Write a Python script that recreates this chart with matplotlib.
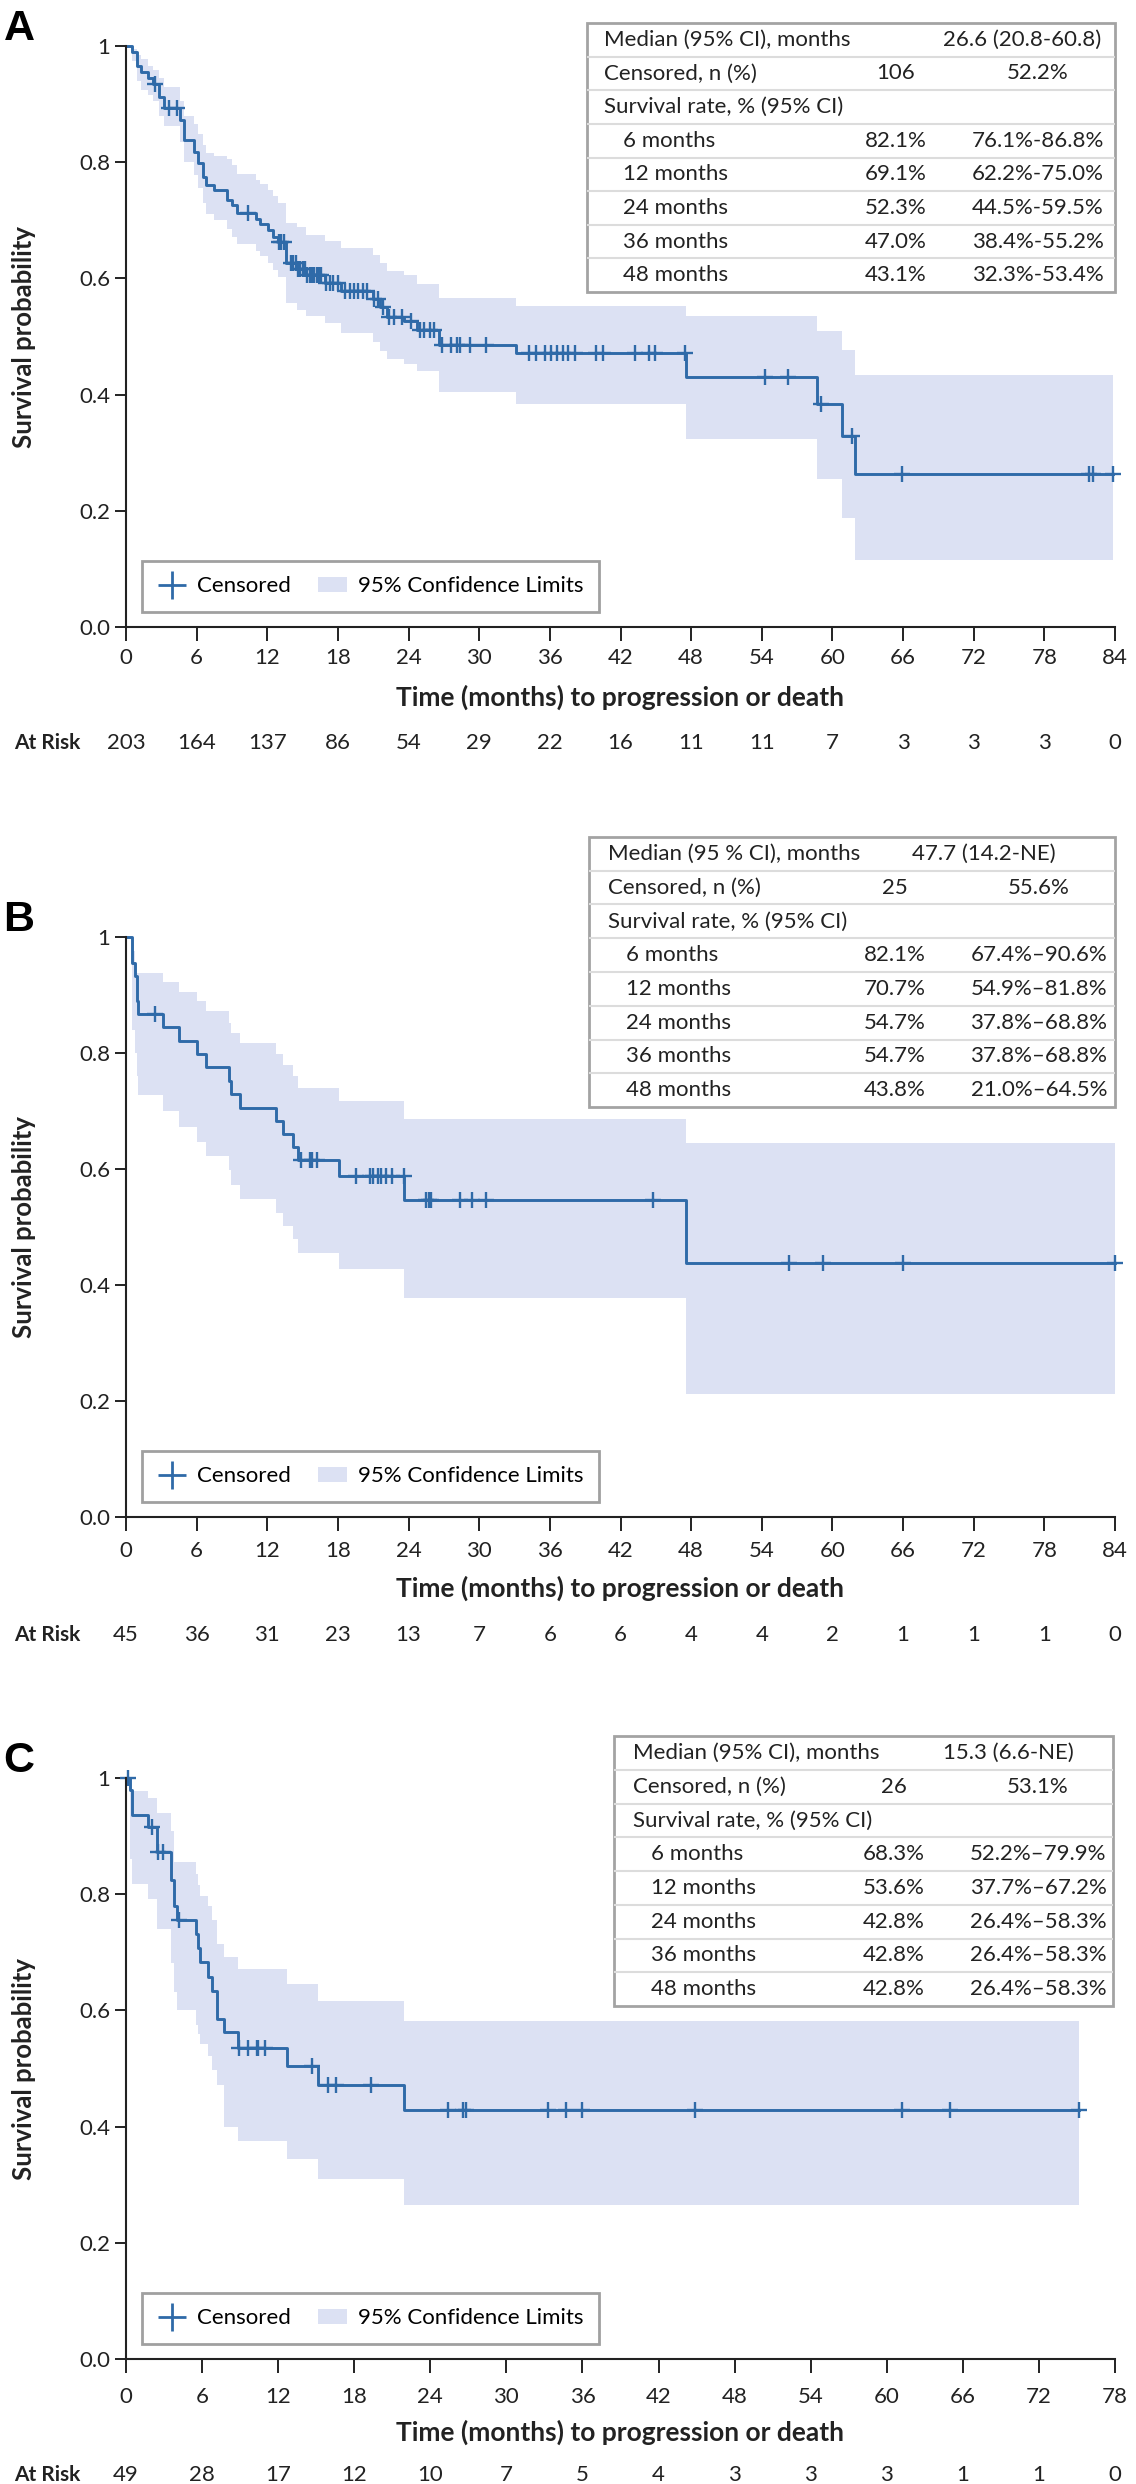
import numpy as np
import matplotlib
matplotlib.use("Agg")
import matplotlib.pyplot as plt
import matplotlib.transforms as mtransforms
from matplotlib.lines import Line2D
from matplotlib.patches import Patch, Rectangle

# ---------------- data ----------------
# panel A: event times (months), KM estimate, 95% CI
tA = [0, 0.5, 0.9, 1.3, 1.9, 2.3, 2.8, 3.2, 4.6, 4.9, 5.8, 6.1, 6.5, 6.8, 7.5, 8.6, 9.0, 9.4,
      11.0, 11.4, 12.1, 12.5, 12.9, 13.58, 14.5, 15.3, 16.9, 18.3, 21.0, 21.6, 22.2, 23.6,
      24.7, 26.6, 33.1, 47.6, 58.7, 60.8, 61.9]
sA = [1.0, 0.99, 0.966, 0.955, 0.945, 0.935, 0.912, 0.894, 0.872, 0.838, 0.818, 0.798, 0.775,
      0.761, 0.753, 0.735, 0.726, 0.712, 0.702, 0.693, 0.683, 0.672, 0.662, 0.626, 0.617, 0.605,
      0.592, 0.578, 0.565, 0.55, 0.534, 0.526, 0.512, 0.486, 0.471, 0.431, 0.383, 0.328, 0.263]
hiA = [1.0, 0.995, 0.985, 0.978, 0.965, 0.958, 0.945, 0.93, 0.905, 0.88, 0.865, 0.848, 0.83,
       0.815, 0.81, 0.805, 0.795, 0.78, 0.77, 0.762, 0.752, 0.742, 0.73, 0.695, 0.688, 0.675,
       0.665, 0.652, 0.64, 0.626, 0.612, 0.605, 0.59, 0.566, 0.552, 0.535, 0.51, 0.477, 0.434]
loA = [1.0, 0.975, 0.94, 0.925, 0.915, 0.905, 0.88, 0.862, 0.835, 0.80, 0.778, 0.755, 0.73,
       0.71, 0.70, 0.685, 0.672, 0.66, 0.648, 0.638, 0.627, 0.615, 0.603, 0.557, 0.545, 0.535,
       0.523, 0.506, 0.49, 0.475, 0.462, 0.452, 0.44, 0.405, 0.384, 0.323, 0.254, 0.188, 0.116]
censA = [2.5, 3.66, 4.36, 10.4, 13.0, 13.2, 13.4, 14.0, 14.2, 14.4, 14.6, 14.8, 15.0, 15.2,
         15.4, 15.6, 15.8, 16.0, 16.2, 16.4, 16.6, 17.0, 17.3, 17.6, 18.0, 18.6, 19.0, 19.4,
         19.7, 20.1, 20.5, 21.1, 21.4, 21.8, 22.3, 22.8, 23.4, 24.2, 25.0, 25.3, 25.8, 26.2,
         26.8, 27.6, 28.1, 28.4, 29.2, 30.6, 34.2, 34.8, 35.6, 36.1, 36.6, 37.1, 37.5, 38.1,
         39.9, 40.5, 43.2, 44.4, 44.9, 47.5, 54.3, 56.2, 59.0, 61.7, 65.9, 81.8, 82.1, 83.8]
riskA = [203, 164, 137, 86, 54, 29, 22, 16, 11, 11, 7, 3, 3, 3, 0]

# panel B
tB = [0, 0.54, 0.77, 0.9, 1.0, 3.15, 4.5, 6.0, 6.83, 8.76, 8.95, 9.67, 12.78, 13.35, 14.2,
      14.65, 18.05, 23.64, 47.6]
sB = [1.0, 0.956, 0.933, 0.89, 0.867, 0.844, 0.820, 0.798, 0.776, 0.751, 0.730, 0.706, 0.683,
      0.661, 0.638, 0.616, 0.588, 0.546, 0.438]
hiB = [1.0, 0.976, 0.938, 0.938, 0.938, 0.922, 0.905, 0.889, 0.872, 0.851, 0.835, 0.818, 0.798,
       0.779, 0.760, 0.74, 0.717, 0.686, 0.645]
loB = [1.0, 0.84, 0.80, 0.76, 0.727, 0.70, 0.672, 0.647, 0.622, 0.599, 0.573, 0.548, 0.525,
       0.502, 0.479, 0.456, 0.427, 0.377, 0.212]
censB = [2.5, 14.85, 15.6, 15.8, 16.2, 19.5, 20.7, 21.0, 21.4, 21.7, 22.1, 22.6, 23.6, 25.5,
         25.7, 25.9, 28.4, 29.4, 30.6, 44.8, 56.3, 59.2, 66.0, 84.0]
riskB = [45, 36, 31, 23, 13, 7, 6, 6, 4, 4, 2, 1, 1, 1, 0]

# panel C
tC = [0, 0.3, 0.45, 1.76, 2.42, 3.52, 3.78, 4.05, 5.52, 5.7, 5.86, 6.49, 6.75, 7.2, 7.76, 8.8,
      12.67, 15.17, 21.9]
sC = [1.0, 0.98, 0.936, 0.916, 0.873, 0.824, 0.779, 0.756, 0.731, 0.707, 0.683, 0.658, 0.633,
      0.585, 0.562, 0.536, 0.505, 0.472, 0.428]
hiC = [1.0, 0.978, 0.978, 0.966, 0.939, 0.908, 0.855, 0.855, 0.835, 0.815, 0.797, 0.779, 0.756,
       0.714, 0.692, 0.672, 0.645, 0.616, 0.582]
loC = [1.0, 0.86, 0.817, 0.792, 0.74, 0.681, 0.632, 0.601, 0.575, 0.56, 0.543, 0.521, 0.497,
       0.471, 0.40, 0.376, 0.344, 0.309, 0.265]
censC = [0.18, 2.07, 2.5, 2.9, 4.2, 8.9, 9.6, 10.3, 10.4, 11.0, 14.65, 15.96, 16.6, 19.3, 25.4,
         26.6, 26.8, 33.3, 34.7, 36.0, 44.9, 61.2, 65.0, 75.2]
riskC = [49, 28, 17, 12, 10, 7, 5, 4, 3, 3, 3, 1, 1, 0]

# summary tables
row_labels = ["Survival rate, % (95% CI)", "6 months", "12 months", "24 months", "36 months", "48 months"]
medA, censnA, censpA = "26.6 (20.8-60.8)", "106", "52.2%"
ratesA = ["82.1%", "69.1%", "52.3%", "47.0%", "43.1%"]
cisA = ["76.1%-86.8%", "62.2%-75.0%", "44.5%-59.5%", "38.4%-55.2%", "32.3%-53.4%"]
medB, censnB, censpB = "47.7 (14.2-NE)", "25", "55.6%"
ratesB = ["82.1%", "70.7%", "54.7%", "54.7%", "43.8%"]
cisB = ["67.4%\u201390.6%", "54.9%\u201381.8%", "37.8%\u201368.8%", "37.8%\u201368.8%", "21.0%\u201364.5%"]
medC, censnC, censpC = "15.3 (6.6-NE)", "26", "53.1%"
ratesC = ["68.3%", "53.6%", "42.8%", "42.8%", "42.8%"]
cisC = ["52.2%\u201379.9%", "37.7%\u201367.2%", "26.4%\u201358.3%", "26.4%\u201358.3%", "26.4%\u201358.3%"]

# ---------------- style ----------------
plt.rcParams['font.family'] = ['Lato', 'DejaVu Sans']
W, H = 1136, 2484
BLUE = '#2f6aa8'
CIC = '#dce1f3'
INK = '#222222'
FS = 16

fig = plt.figure(figsize=(W / 100, H / 100), dpi=100)


def fy(y):
    return 1 - y / H


def km_panel(top, bottom, t, s, lo, hi, cens, xmax, risk, letter, tick_y, lab_y, risk_y):
    left, right = 126, 1115
    ax = fig.add_axes([left / W, fy(bottom), (right - left) / W, (bottom - top) / H])
    t_end = cens[-1]
    tt = list(t) + [t_end]
    ax.fill_between(tt, list(lo) + [lo[-1]], list(hi) + [hi[-1]], step='post', color=CIC, lw=0)
    ax.step(tt, list(s) + [s[-1]], where='post', color=BLUE, lw=2.1, clip_on=False)
    # censored marks sit on the step function
    idx = np.searchsorted(t, cens, side='right') - 1
    ax.plot(cens, np.array(s)[idx], '+', color=BLUE, ms=11, mew=1.7, clip_on=False)

    ax.set_xlim(0, xmax)
    ax.set_ylim(0, 1)
    ax.set_xticks(np.arange(0, xmax + 1, 6))
    ax.set_yticks([0, 0.2, 0.4, 0.6, 0.8, 1.0])
    ax.set_yticklabels(['0.0', '0.2', '0.4', '0.6', '0.8', '1'])
    for sp in ['top', 'right']:
        ax.spines[sp].set_visible(False)
    for sp in ['left', 'bottom']:
        ax.spines[sp].set_linewidth(1.5)
        ax.spines[sp].set_color(INK)
    ax.tick_params(axis='both', length=8, width=1.4, color=INK, labelsize=FS, labelcolor=INK)
    ax.tick_params(axis='x', length=10, pad=(tick_y - bottom) - 21)

    ax.legend(handles=[Line2D([], [], color=BLUE, marker='+', ls='none', ms=20, mew=2),
                       Patch(facecolor=CIC, edgecolor='none')],
              labels=['Censored', '95% Confidence Limits'], loc='lower left',
              bbox_to_anchor=(0.016, 0.026), borderaxespad=0, ncol=2, fontsize=FS,
              frameon=True, fancybox=False, edgecolor='#a0a0a0', framealpha=1,
              handlelength=1.3, handletextpad=0.5, columnspacing=1.2,
              borderpad=0.7).get_frame().set_linewidth(2)

    fig.text(620 / W, fy(lab_y), 'Time (months) to progression or death', ha='center',
             va='center', fontsize=19, fontweight='bold', color=INK)
    fig.text(24 / W, fy((top + bottom) / 2), 'Survival probability', rotation=90, ha='center',
             va='center', fontsize=18.5, fontweight='bold', color=INK)
    fig.text(19 / W, fy(top - 17), letter, ha='center', va='center', fontsize=31,
             fontweight='bold', color='black', family=['Liberation Sans', 'DejaVu Sans'])

    tr = mtransforms.blended_transform_factory(ax.transData, fig.transFigure)
    fig.text(14 / W, fy(risk_y), 'At Risk', ha='left', va='center', fontsize=15,
             fontweight='bold', color=INK)
    for m, n in zip(np.arange(0, xmax + 1, 6), risk):
        ax.text(m, fy(risk_y), str(n), transform=tr, ha='center', va='center', fontsize=FS,
                color=INK)
    return ax


def table(box, med_label, med, cn, cp, rates, cis, xs):
    x0, y0, x1, y1 = box
    w, h = x1 - x0, y1 - y0
    tax = fig.add_axes([x0 / W, fy(y1), w / W, h / H])
    tax.set_xlim(0, w)
    tax.set_ylim(h, 0)
    tax.axis('off')
    rh = h / 8
    for i in range(1, 8):
        tax.axhline(i * rh, color='#dcdcdc', lw=1.5)
    tax.add_patch(Rectangle((0, 0), w, h, fill=False, ec='#a3a3a3', lw=2, clip_on=False))
    lab, ind, mid, rgt, medx = xs
    kw = dict(va='center', fontsize=FS, color=INK)
    tax.text(lab, 0.5 * rh, med_label, ha='left', **kw)
    tax.text(medx, 0.5 * rh, med, ha='center', **kw)
    tax.text(lab, 1.5 * rh, 'Censored, n (%)', ha='left', **kw)
    tax.text(mid, 1.5 * rh, cn, ha='center', **kw)
    tax.text(rgt, 1.5 * rh, cp, ha='center', **kw)
    tax.text(lab, 2.5 * rh, row_labels[0], ha='left', **kw)
    for i in range(5):
        yy = (3.5 + i) * rh
        tax.text(ind, yy, row_labels[i + 1], ha='left', **kw)
        tax.text(mid, yy, rates[i], ha='center', **kw)
        tax.text(rgt, yy, cis[i], ha='center', **kw)


km_panel(46, 627, tA, sA, loA, hiA, censA, 84, riskA, 'A', 653, 697, 743)
km_panel(937, 1517, tB, sB, loB, hiB, censB, 84, riskB, 'B', 1545, 1588, 1635)
km_panel(1778, 2359, tC, sC, loC, hiC, censC, 78, riskC, 'C', 2390, 2432, 2475)

table((587, 23, 1115, 292), 'Median (95% CI), months', medA, censnA, censpA, ratesA, cisA,
      (17, 36, 309, 451, 435))
table((589, 837, 1115, 1107), 'Median (95 % CI), months', medB, censnB, censpB, ratesB, cisB,
      (19, 37, 306, 450, 395))
table((614, 1736, 1113, 2006), 'Median (95% CI), months', medC, censnC, censpC, ratesC, cisC,
      (19, 37, 280, 424, 394))

fig.savefig('out.png', dpi=100)
